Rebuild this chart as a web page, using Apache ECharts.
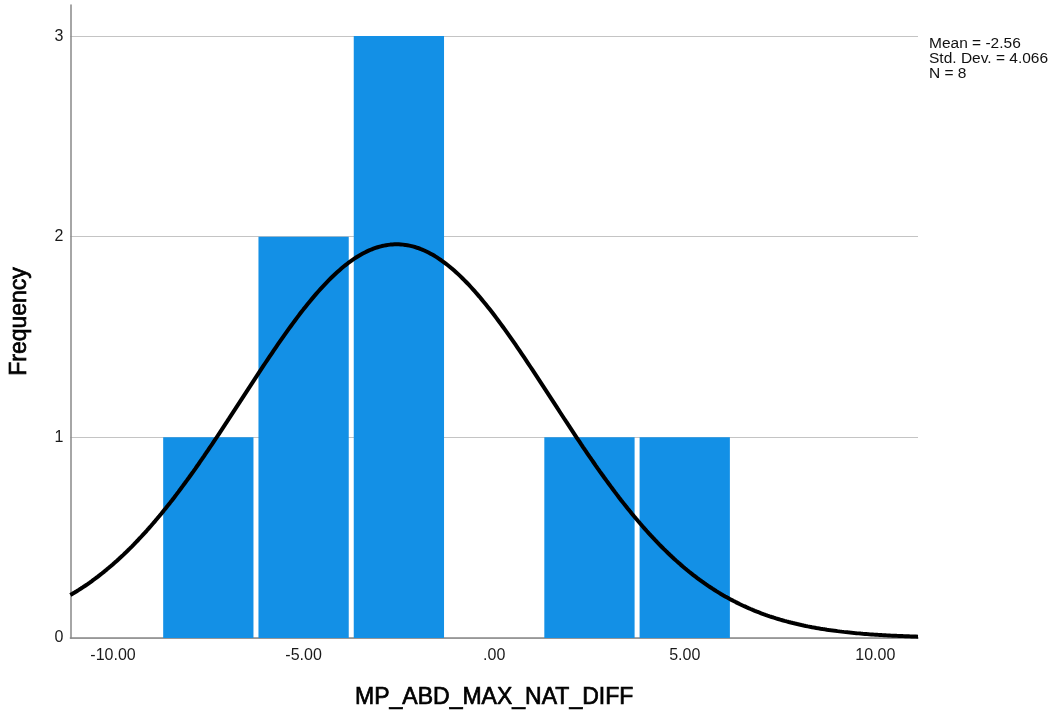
<!DOCTYPE html>
<html>
<head>
<meta charset="utf-8">
<script src="https://cdn.jsdelivr.net/npm/echarts@6/dist/echarts.min.js"></script>
<style>
  html, body { margin: 0; padding: 0; background: #fff; }
  #chart { width: 1057px; height: 719px; }
</style>
</head>
<body>
<div id="chart"></div>
<script>
// Histogram bins (centre of each 2.5-wide bin) and their counts
const binCenters = [-7.5, -5.0, -2.5, 0.0, 2.5, 5.0];
const binWidth = 2.5;
const frequencies = [1, 2, 3, 0, 1, 1];

// Summary statistics shown at the top right
const meanValue = -2.56;
const stdDev = 4.066;
const sampleN = 8;

// Axis ticks
const xTickValues = [-10, -5, 0, 5, 10];
const xTickLabels = ['-10.00', '-5.00', '.00', '5.00', '10.00'];
const yTickValues = [0, 1, 2, 3];

const xMin = -11.12, xMax = 11.12;
const yMax = 3.155;

// Bars: [left edge, right edge, count]
const barData = binCenters.map((c, i) => [c - binWidth / 2, c + binWidth / 2, frequencies[i]]);

// Normal curve scaled to counts: N * binWidth * pdf(x)
const curveData = [];
for (let k = 0; k <= 400; k++) {
  const x = xMin + (xMax - xMin) * k / 400;
  const z = (x - meanValue) / stdDev;
  const y = sampleN * binWidth * Math.exp(-0.5 * z * z) / (stdDev * Math.sqrt(2 * Math.PI));
  curveData.push([x, y]);
}

const chart = echarts.init(document.getElementById('chart'), null, { renderer: 'canvas' });
const font = 'Liberation Sans, Arial, sans-serif';
const titleStyle = {
  fontFamily: font, fontSize: 23, color: '#000',
  textBorderColor: '#000', textBorderWidth: 0.7
};

chart.setOption({
  animation: false,
  backgroundColor: '#ffffff',
  grid: { left: 69, right: 139, top: 5, bottom: 81, containLabel: false },
  xAxis: {
    type: 'value',
    min: xMin,
    max: xMax,
    name: 'MP_ABD_MAX_NAT_DIFF',
    nameLocation: 'middle',
    nameGap: 48,
    nameTextStyle: titleStyle,
    axisLine: { show: true, onZero: false, lineStyle: { color: '#888', width: 1.5 } },
    axisTick: { show: false },
    splitLine: { show: false },
    axisLabel: {
      customValues: xTickValues,
      formatter: v => xTickLabels[xTickValues.indexOf(v)] ?? '',
      fontFamily: font, fontSize: 16, color: '#1a1a1a', margin: 10
    }
  },
  yAxis: {
    type: 'value',
    min: 0,
    max: yMax,
    name: 'Frequency',
    nameLocation: 'middle',
    nameRotate: 90,
    nameGap: 39,
    nameTextStyle: titleStyle,
    axisLine: { show: true, onZero: false, lineStyle: { color: '#888', width: 1.5 } },
    axisTick: { show: false, customValues: yTickValues },
    splitLine: { show: true, lineStyle: { color: '#c4c4c4', width: 1.2 } },
    axisLabel: {
      customValues: yTickValues,
      formatter: v => String(v),
      fontFamily: font, fontSize: 16, color: '#1a1a1a', margin: 7
    }
  },
  graphic: [{
    type: 'text',
    left: 929,
    top: 36,
    style: {
      text: 'Mean = ' + meanValue.toFixed(2) + '\nStd. Dev. = ' + stdDev.toFixed(3) + '\nN = ' + sampleN,
      font: '15.5px ' + font,
      fill: '#111',
      lineHeight: 15
    }
  }],
  series: [
    {
      type: 'custom',
      z: 2,
      data: barData,
      encode: { x: [0, 1], y: 2 },
      renderItem: (params, api) => {
        const lo = api.coord([api.value(0), api.value(2)]);
        const hi = api.coord([api.value(1), 0]);
        const inset = 2.5;
        const h = hi[1] - lo[1];
        if (h <= 0) return null;
        return {
          type: 'rect',
          shape: { x: lo[0] + inset, y: lo[1], width: hi[0] - lo[0] - 2 * inset, height: h },
          style: { fill: '#1390e6' }
        };
      }
    },
    {
      type: 'line',
      z: 3,
      data: curveData,
      showSymbol: false,
      smooth: false,
      lineStyle: { color: '#000', width: 4 },
      clip: true
    }
  ]
});
</script>
</body>
</html>
